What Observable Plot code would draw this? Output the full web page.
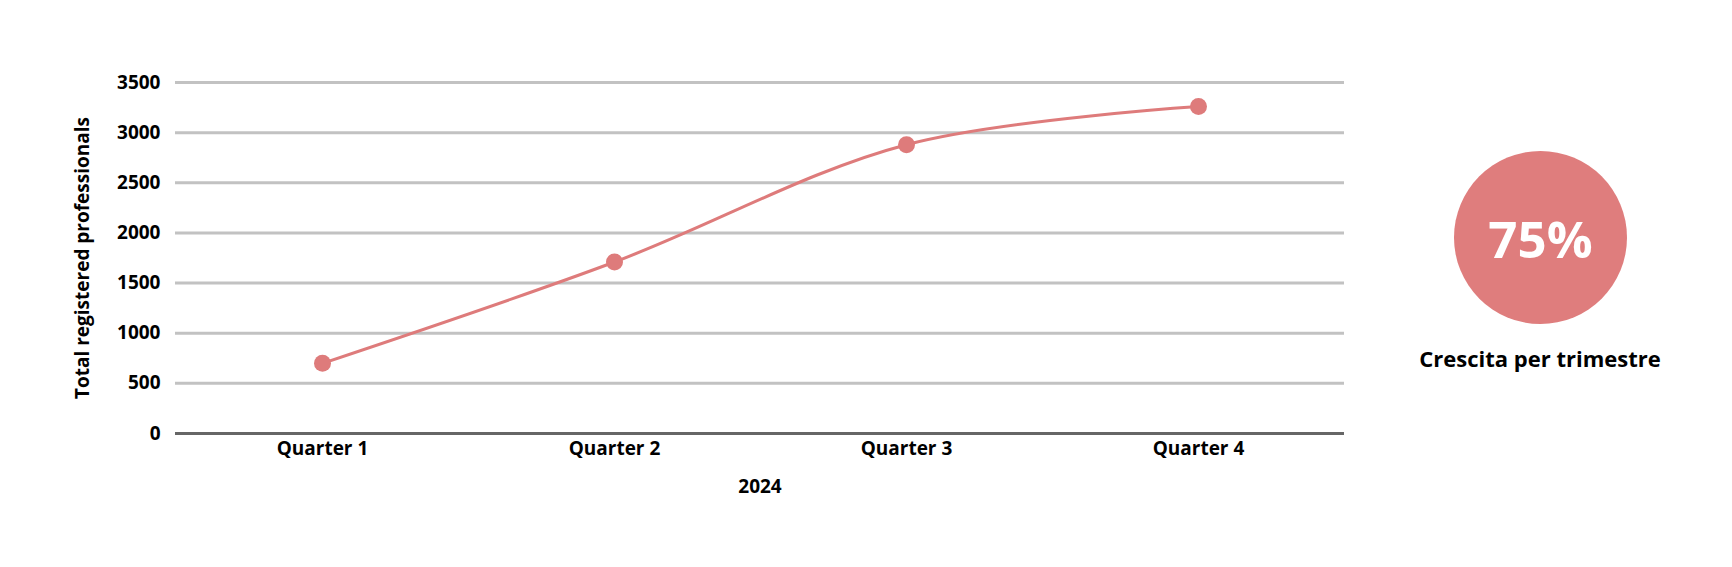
<!DOCTYPE html>
<html>
<head>
<meta charset="utf-8">
<script src="https://cdn.jsdelivr.net/npm/d3@7"></script>
<script src="https://cdn.jsdelivr.net/npm/@observablehq/plot@0.6"></script>
<style>
  html, body { margin: 0; padding: 0; background: #fff; }
  #wrap { position: relative; width: 1732px; height: 567px; overflow: hidden; font-family: "Open Sans", sans-serif; }
  #chart { position: absolute; left: 0; top: 0; }
  #kpi { position: absolute; left: 1454px; top: 151px; width: 173px; height: 173px; border-radius: 50%;
         background: #df7d7d; color: #fff; font-weight: 700; font-size: 51px;
         display: flex; align-items: center; justify-content: center; }
  #kpiLabel { position: absolute; left: 1390px; width: 300px; top: 343px; line-height: 30px; text-align: center;
         font-weight: 700; font-size: 22px; color: #000; }
</style>
</head>
<body>
<div id="wrap">
  <div id="chart"></div>
  <div id="kpi"></div>
  <div id="kpiLabel"></div>
</div>
<script>
const quarters = ["Quarter 1", "Quarter 2", "Quarter 3", "Quarter 4"];
const professionals = [700, 1710, 2880, 3260];
const yTicks = [0, 500, 1000, 1500, 2000, 2500, 3000, 3500];
const yLabel = "Total registered professionals";
const xLabel = "2024";
const kpiValue = "75%";
const kpiText = "Crescita per trimestre";

const data = quarters.map((q, i) => ({quarter: q, value: professionals[i]}));
const color = "#de7b7b";
const fs = 19;

const chart = Plot.plot({
  width: 1400,
  height: 567,
  marginLeft: 175,
  marginRight: 56,
  marginTop: 82,
  marginBottom: 134,
  style: {fontFamily: "'Open Sans', sans-serif", fontWeight: 700, fontSize: fs + "px", color: "#000", background: "transparent"},
  x: {domain: quarters, type: "point", padding: 0.5, label: null},
  y: {domain: [0, 3500], ticks: yTicks, label: null},
  marks: [
    Plot.gridY(yTicks.filter(d => d > 0), {stroke: "#c2c2c2", strokeOpacity: 1, strokeWidth: 3}),
    Plot.ruleY([0], {stroke: "#666666", strokeWidth: 3}),
    Plot.axisY({ticks: yTicks, tickSize: 0, tickPadding: 15, label: null, tickFormat: d => String(d), fontSize: fs, fontWeight: 700}),
    Plot.axisX({tickSize: 0, tickPadding: 8, label: null, fontSize: fs, fontWeight: 700}),
    Plot.text([yLabel], {frameAnchor: "left", dx: -93, rotate: -90, textAnchor: "middle", lineAnchor: "middle", text: d => d, fontSize: fs, fontWeight: 700}),
    Plot.text([xLabel], {frameAnchor: "bottom", dy: 53, lineAnchor: "middle", text: d => d, fontSize: fs, fontWeight: 700}),
    Plot.line(data, {x: "quarter", y: "value", stroke: color, strokeWidth: 3, curve: "catmull-rom"}),
    Plot.dot(data, {x: "quarter", y: "value", r: 8.5, fill: color, stroke: "none"})
  ]
});
document.getElementById("chart").appendChild(chart);
document.getElementById("kpi").textContent = kpiValue;
document.getElementById("kpiLabel").textContent = kpiText;
</script>
</body>
</html>
